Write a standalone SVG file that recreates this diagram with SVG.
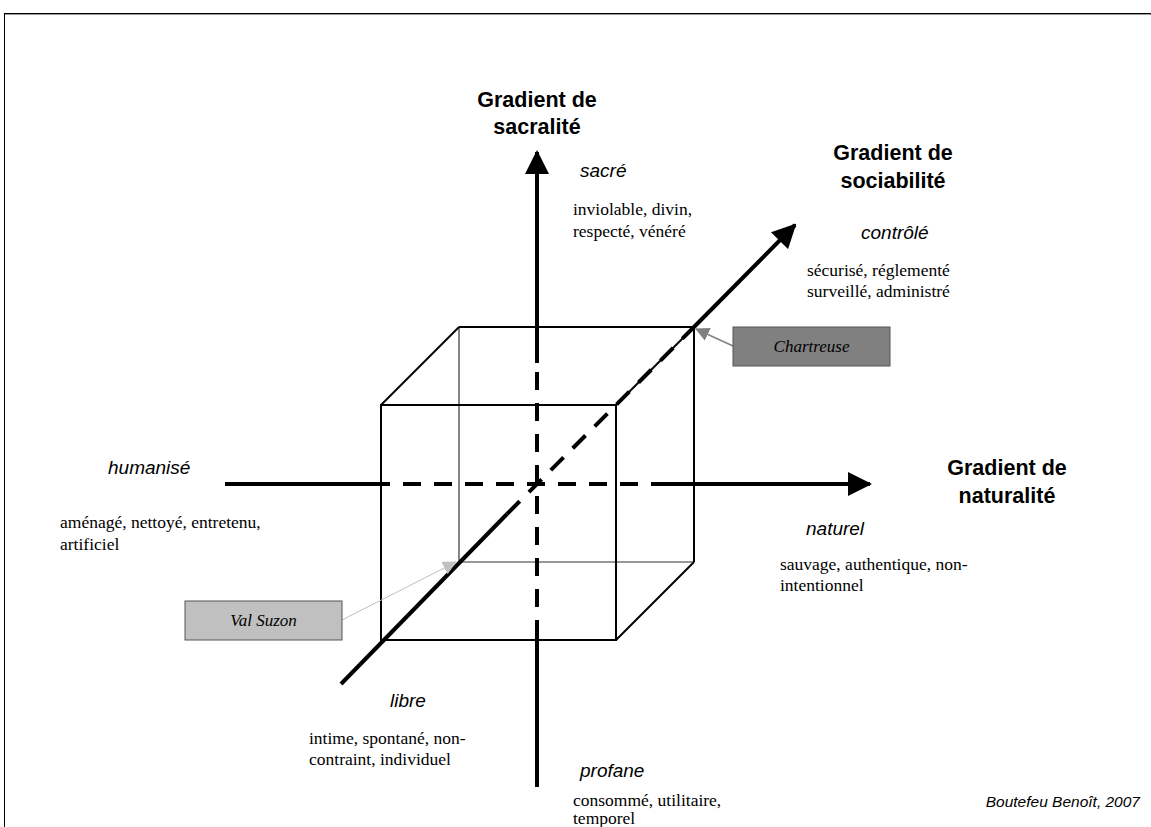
<svg xmlns="http://www.w3.org/2000/svg" width="1151" height="827" viewBox="0 0 1151 827">
<style>
.h{font-family:"Liberation Sans",Arial,sans-serif;font-weight:bold;font-size:21.5px;fill:#000;text-anchor:middle}
.i{font-family:"Liberation Sans",Arial,sans-serif;font-style:italic;font-size:19px;fill:#000}
.s{font-family:"Liberation Serif","Times New Roman",serif;font-size:17.5px;fill:#000}
.b{font-family:"Liberation Serif","Times New Roman",serif;font-style:italic;font-size:17px;fill:#000;text-anchor:middle}
.ax{stroke:#000;stroke-width:4;fill:none}
.da{stroke:#000;stroke-width:4;fill:none;stroke-dasharray:18 13}
.cf{stroke:#000;stroke-width:2;fill:none}
.cb{stroke:#333;stroke-width:1.2;fill:none}
</style>
<defs>
<marker id="ah" markerUnits="userSpaceOnUse" markerWidth="24" markerHeight="24" viewBox="0 0 24 24" refX="22" refY="12" orient="auto">
<path d="M0,0 L24,12 L0,24 Z" fill="#000"/>
</marker>
<marker id="ag" markerUnits="userSpaceOnUse" markerWidth="14" markerHeight="14" viewBox="0 0 14 14" refX="13" refY="7" orient="auto">
<path d="M0,0 L14,7 L0,14 Z" fill="#808080"/>
</marker>
<marker id="al" markerUnits="userSpaceOnUse" markerWidth="14" markerHeight="14" viewBox="0 0 14 14" refX="13" refY="7" orient="auto">
<path d="M0,0 L14,7 L0,14 Z" fill="#c0c0c0"/>
</marker>
</defs>
<rect width="1151" height="827" fill="#fff"/>
<g id="border">
<line x1="4" y1="13.5" x2="1151" y2="13.5" stroke="#000" stroke-width="1"/>
<line x1="5" y1="14.5" x2="1151" y2="14.5" stroke="#999" stroke-width="1"/>
<line x1="4.5" y1="13" x2="4.5" y2="827" stroke="#000" stroke-width="1"/>
</g>
<g id="cube">
<line class="cb" x1="459" y1="327" x2="459" y2="562"/>
<line class="cb" x1="459" y1="562" x2="694" y2="562"/>
<line class="cf" x1="459" y1="327" x2="694" y2="327"/>
<line class="cf" x1="694" y1="327" x2="694" y2="562"/>
<line class="cf" x1="381" y1="405" x2="459" y2="327"/>
<line class="cf" x1="616" y1="405" x2="694" y2="327"/>
<line class="cf" x1="616" y1="640" x2="694" y2="562"/>
<rect class="cf" x="381" y="405" width="235" height="235"/>
</g>
<g id="connectors">
<line class="ax" x1="537" y1="363" x2="537" y2="152" marker-end="url(#ah)"/>
<line class="da" x1="537" y1="372" x2="537" y2="622"/>
<line class="ax" x1="537" y1="622" x2="537" y2="787"/>
<line class="ax" x1="225" y1="484" x2="372" y2="484"/>
<line class="da" x1="372" y1="484" x2="655" y2="484"/>
<line class="ax" x1="655" y1="484" x2="870" y2="484" marker-end="url(#ah)"/>
<line class="ax" x1="341" y1="684" x2="507" y2="514"/>
<line class="da" x1="507" y1="514" x2="694" y2="327"/>
<line class="ax" x1="694" y1="327" x2="795" y2="225" marker-end="url(#ah)"/>
<line x1="733" y1="346" x2="696" y2="329" stroke="#808080" stroke-width="1.5" marker-end="url(#ag)"/>
<line x1="342" y1="620" x2="456" y2="562" stroke="#c0c0c0" stroke-width="1" marker-end="url(#al)"/>
</g>
<g id="chartreuse">
<rect x="733" y="327" width="157" height="39" fill="#808080" stroke="#555" stroke-width="1"/>
<text class="b" x="811.5" y="352">Chartreuse</text>
</g>
<g id="valsuzon">
<rect x="185" y="601" width="157" height="39" fill="#c0c0c0" stroke="#555" stroke-width="1"/>
<text class="b" x="263.5" y="626">Val Suzon</text>
</g>
<g id="sacralite">
<text class="h" x="537" y="107">Gradient de</text>
<text class="h" x="537" y="134">sacralité</text>
<text class="i" x="580" y="177">sacré</text>
<text class="s" x="573" y="215">inviolable, divin,</text>
<text class="s" x="573" y="237">respecté, vénéré</text>
</g>
<g id="sociabilite">
<text class="h" x="893" y="160">Gradient de</text>
<text class="h" x="893" y="188">sociabilité</text>
<text class="i" x="861" y="239">contrôlé</text>
<text class="s" x="807" y="276">sécurisé, réglementé</text>
<text class="s" x="807" y="297">surveillé, administré</text>
</g>
<g id="humanise">
<text class="i" x="108" y="474">humanisé</text>
<text class="s" x="60" y="528">aménagé, nettoyé, entretenu,</text>
<text class="s" x="60" y="550">artificiel</text>
</g>
<g id="naturalite">
<text class="h" x="1007" y="475">Gradient de</text>
<text class="h" x="1007" y="503">naturalité</text>
<text class="i" x="806" y="535">naturel</text>
<text class="s" x="780" y="570">sauvage, authentique, non-</text>
<text class="s" x="780" y="591">intentionnel</text>
</g>
<g id="libre">
<text class="i" x="390" y="707">libre</text>
<text class="s" x="309" y="744">intime, spontané, non-</text>
<text class="s" x="309" y="765">contraint, individuel</text>
</g>
<g id="profane">
<text class="i" x="580" y="777">profane</text>
<text class="s" x="573" y="806">consommé, utilitaire,</text>
<text class="s" x="573" y="824">temporel</text>
</g>
<text x="1140" y="807" font-family="Liberation Sans,Arial,sans-serif" font-style="italic" font-size="15.5" text-anchor="end">Boutefeu Benoît, 2007</text>
</svg>
